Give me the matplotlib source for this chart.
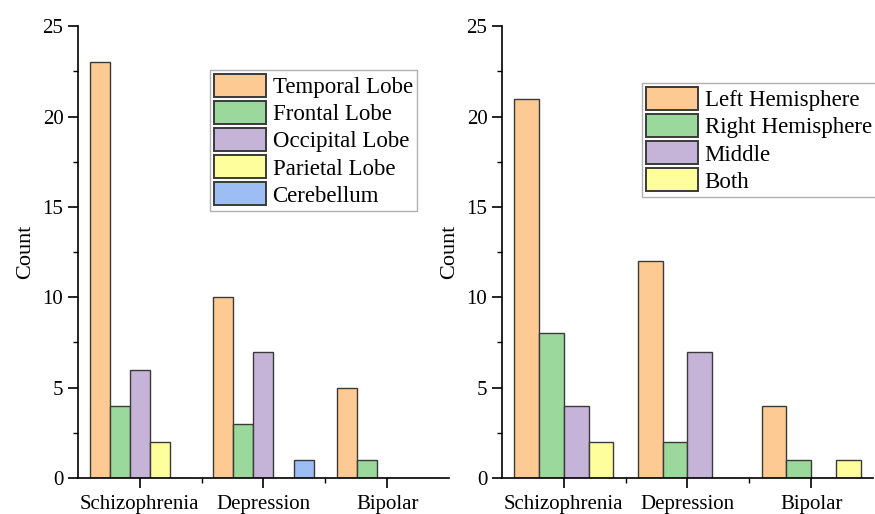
import numpy as np
import matplotlib
matplotlib.use("Agg")
import matplotlib.pyplot as plt
from matplotlib.ticker import MultipleLocator

plt.rcParams['font.family'] = 'serif'
plt.rcParams['font.serif'] = ['Liberation Serif', 'DejaVu Serif']

# data
disorders = ['Schizophrenia', 'Depression', 'Bipolar']

lobe_labels = ['Temporal Lobe', 'Frontal Lobe', 'Occipital Lobe', 'Parietal Lobe', 'Cerebellum']
temporal = [23, 10, 5]
frontal = [4, 3, 1]
occipital = [6, 7, 0]
parietal = [2, 0, 0]
cerebellum = [0, 1, 0]

side_labels = ['Left Hemisphere', 'Right Hemisphere', 'Middle', 'Both']
left_hemi = [21, 12, 4]
right_hemi = [8, 2, 1]
middle = [4, 7, 0]
both = [2, 0, 1]

COLORS = ['#FECA93', '#9BD89B', '#C6B4D8', '#FEFE9D', '#9DBDF5']
EDGE = '#3a3a3a'

fig = plt.figure(figsize=(8.75, 5.14), dpi=100)
fig.patch.set_facecolor('white')


def draw_panel(ax, series, labels, width, legend_anchor):
    x = np.arange(len(disorders))
    n = len(series)
    for i, (vals, lab) in enumerate(zip(series, labels)):
        offs = (i - (n - 1) / 2) * width
        ax.bar(x + offs, vals, width, color=COLORS[i], edgecolor=EDGE,
               linewidth=1.0, label=lab)
    ax.set_xlim(-0.5, 2.5)
    ax.set_ylim(0, 25)
    ax.set_xticks(x)
    ax.set_xticklabels(disorders)
    ax.set_xticks([0.5, 1.5], minor=True)
    ax.yaxis.set_major_locator(MultipleLocator(5))
    ax.yaxis.set_minor_locator(MultipleLocator(2.5))
    ax.tick_params(axis='both', which='major', direction='out', length=7,
                   width=1.2, labelsize=15, colors='black', pad=3.5)
    ax.tick_params(axis='x', which='major', pad=5)
    ax.tick_params(axis='both', which='minor', direction='out', length=3.5, width=1.0)
    for s in ['top', 'right']:
        ax.spines[s].set_visible(False)
    for s in ['left', 'bottom']:
        ax.spines[s].set_linewidth(1.2)
    ax.set_ylabel('Count', fontsize=16, labelpad=5)
    leg = ax.legend(loc='upper left', bbox_to_anchor=legend_anchor,
                    bbox_transform=fig.transFigure, borderaxespad=0,
                    fontsize=16.5, fancybox=False, framealpha=1,
                    edgecolor='#b0b0b0', handlelength=2.25, handleheight=1.15,
                    labelspacing=0.13, handletextpad=0.3, borderpad=0.18)
    leg.get_frame().set_linewidth(1.0)
    for h in leg.legend_handles:
        h.set_linewidth(1.4)


ax1 = fig.add_axes([0.0891, 0.070, 0.424, 0.879])
draw_panel(ax1, [temporal, frontal, occipital, parietal, cerebellum],
           lobe_labels, 0.162, (0.240, 0.864))

ax2 = fig.add_axes([0.5737, 0.070, 0.424, 0.879])
draw_panel(ax2, [left_hemi, right_hemi, middle, both],
           side_labels, 0.2, (0.7337, 0.8385))

plt.savefig('out.png', dpi=100, facecolor=fig.get_facecolor())
